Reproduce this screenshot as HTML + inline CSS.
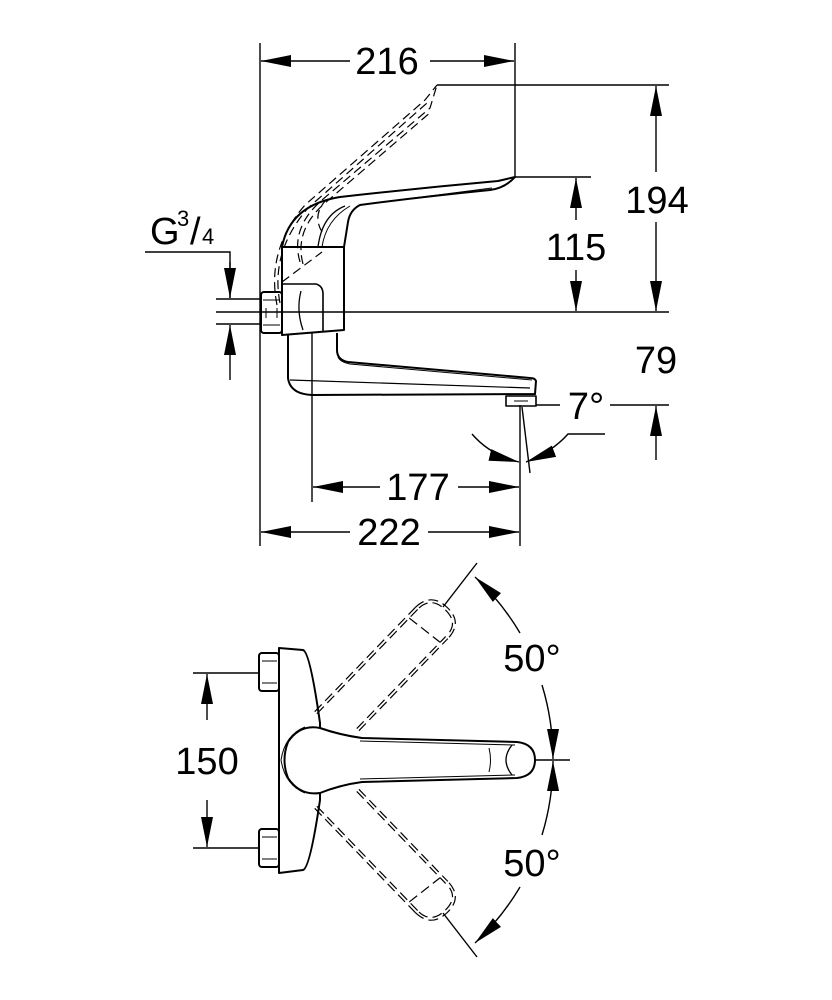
<!DOCTYPE html>
<html><head><meta charset="utf-8"><style>
html,body{margin:0;padding:0;background:#fff}
svg{display:block}
text{font-family:"Liberation Sans",Arial,sans-serif;font-size:38px;fill:#000}
</style></head><body>
<svg width="832" height="1000" viewBox="0 0 832 1000" xmlns="http://www.w3.org/2000/svg">
<defs>
<marker id="a" viewBox="0 0 30 12" refX="30" refY="6" markerWidth="30" markerHeight="12" markerUnits="userSpaceOnUse" orient="auto">
<path d="M0,0 L30,6 L0,12 Z" fill="#000"/></marker>
</defs>
<g stroke="#000" stroke-width="1.4" fill="none">
<line x1="260" y1="43" x2="260" y2="546"/>
<line x1="515" y1="43" x2="515" y2="177"/>
<line x1="437" y1="85" x2="669" y2="85"/>
<line x1="515" y1="177" x2="591" y2="177"/>
<line x1="216" y1="312" x2="669" y2="312"/>
<line x1="312" y1="333" x2="312" y2="502"/>
<line x1="520" y1="405" x2="520" y2="546"/>
<line x1="536" y1="405" x2="560" y2="405"/>
<line x1="610" y1="405" x2="669" y2="405"/>
<line x1="522" y1="407" x2="530" y2="473"/>
<line x1="350" y1="61" x2="261" y2="61" marker-end="url(#a)"/>
<line x1="430" y1="61" x2="514" y2="61" marker-end="url(#a)"/>
<line x1="656" y1="172" x2="656" y2="86" marker-end="url(#a)"/>
<line x1="656" y1="222" x2="656" y2="311" marker-end="url(#a)"/>
<line x1="576" y1="220" x2="576" y2="178" marker-end="url(#a)"/>
<line x1="576" y1="270" x2="576" y2="311" marker-end="url(#a)"/>
<line x1="656" y1="460" x2="656" y2="406" marker-end="url(#a)"/>
<polyline points="145,252 230,252 230,298"/>
<line x1="230" y1="262" x2="230" y2="298" marker-end="url(#a)"/>
<line x1="216" y1="299" x2="260" y2="299"/>
<line x1="216" y1="324" x2="260" y2="324"/>
<line x1="230" y1="380" x2="230" y2="325" marker-end="url(#a)"/>
<line x1="380" y1="487" x2="313" y2="487" marker-end="url(#a)"/>
<line x1="458" y1="487" x2="519" y2="487" marker-end="url(#a)"/>
<line x1="350" y1="532" x2="261" y2="532" marker-end="url(#a)"/>
<line x1="428" y1="532" x2="519" y2="532" marker-end="url(#a)"/>
<path d="M472,434 Q490,455 519,462" marker-end="url(#a)"/>
<path d="M605,434 L568,434 Q552,452 526,462" marker-end="url(#a)"/>
</g>
<g stroke="#000" stroke-width="2" fill="none" stroke-linejoin="round">
<rect x="261" y="292" width="21" height="41" rx="3"/>
<line x1="263" y1="300" x2="280" y2="300" stroke-width="1"/>
<line x1="263" y1="325" x2="280" y2="325" stroke-width="1"/>
<line x1="266" y1="308" x2="266" y2="318" stroke-width="1"/>
<line x1="277" y1="308" x2="277" y2="318" stroke-width="1"/>
<path d="M282,247 L344,247 L344,330 L282,335 Z"/>
<path d="M282,284 L316,284 Q323,286 323,294 L323,331" stroke-width="1.6"/>
<path d="M301,291 Q296,310 303,330" stroke-width="1.3"/>
<path d="M282,247 Q290,205 340,197 Q420,188 498,181 L515,177 Q505,188 490,190 Q420,197 360,205 Q350,210 348,222 L344,247" />
<path d="M318,247 Q322,215 345,206" stroke-width="1.3"/>
<path d="M322,247 Q326,220 350,206" stroke-width="1"/>
<path d="M360,205 Q430,196 492,188" stroke-width="1"/>
<path d="M288,335 L288,378 Q290,394 312,395 L535,394 L536,381 Q535,378 530,378 L348,362 Q337,360 337,350 L337,333"/>
<path d="M290,380 L530,388" stroke-width="1.2"/>
<path d="M338,357 Q340,362 350,364 L532,380" stroke-width="1"/>
<rect x="506" y="396" width="30" height="10" stroke-width="1.6"/>
<line x1="514" y1="401" x2="528" y2="401" stroke-width="1"/>
</g>
<g stroke="#000" stroke-width="1.2" fill="none" stroke-dasharray="9,5">
<path d="M277,305 Q266,250 305,205 L425,100 L437,85"/>
<path d="M280,303 Q270,252 308,208 L427,103"/>
<path d="M300,262 Q290,228 322,200 L430,108 L437,85"/>
<path d="M303,264 Q294,230 325,203 L432,111"/>
<path d="M322,232 Q312,215 326,200"/>
<path d="M282,282 L322,252"/>
</g>
<g>
<text x="387" y="74" text-anchor="middle">216</text>
<text x="657" y="213" text-anchor="middle">194</text>
<text x="576" y="260" text-anchor="middle">115</text>
<text x="656" y="373" text-anchor="middle">79</text>
<text x="586" y="419" text-anchor="middle">7°</text>
<text x="418" y="500" text-anchor="middle">177</text>
<text x="389" y="545" text-anchor="middle">222</text>
<text x="150" y="244">G</text>
<text x="177" y="226" style="font-size:22px">3</text>
<text x="190" y="244">/</text>
<text x="202" y="244" style="font-size:22px">4</text>
</g>
<g stroke="#000" stroke-width="1.4" fill="none">
<line x1="193" y1="673" x2="259" y2="673"/>
<line x1="193" y1="848" x2="259" y2="848"/>
<line x1="207" y1="720" x2="207" y2="674" marker-end="url(#a)"/>
<line x1="207" y1="800" x2="207" y2="847" marker-end="url(#a)"/>
<line x1="513" y1="760" x2="570" y2="760"/>
<line x1="443" y1="607" x2="477" y2="563"/>
<line x1="443" y1="913" x2="477" y2="957"/>
<path d="M520,633 A252,252 0 0 0 475,577" marker-end="url(#a)"/>
<path d="M542,685 A252,252 0 0 1 553,759" marker-end="url(#a)"/>
<path d="M520,887 A252,252 0 0 1 475,943" marker-end="url(#a)"/>
<path d="M542,835 A252,252 0 0 0 553,761" marker-end="url(#a)"/>
</g>
<g stroke="#000" stroke-width="2" fill="none" stroke-linejoin="round">
<path d="M279,648 L279,873 L303,870 Q310,868 320,800 L320,723 Q310,652 303,650 Z"/>
<rect x="259" y="653" width="20" height="38" rx="3"/>
<rect x="259" y="829" width="20" height="38" rx="3"/>
<line x1="262" y1="661" x2="277" y2="661" stroke-width="1"/>
<line x1="262" y1="683" x2="277" y2="683" stroke-width="1"/>
<line x1="262" y1="837" x2="277" y2="837" stroke-width="1"/>
<line x1="262" y1="859" x2="277" y2="859" stroke-width="1"/>
<path d="M320,728 Q300,724 288,742 Q281,760 288,778 Q300,796 320,793 Q340,785 362,782 L517,778 Q535,776 535,760 Q535,744 517,742 L362,738 Q340,735 320,728 Z" fill="#fff"/>
<path d="M360,741 L515,745" stroke-width="1"/>
<path d="M360,779 L515,775" stroke-width="1"/>
<path d="M512,745 Q500,760 512,775" stroke-width="1.3"/>
<path d="M489,748 Q492,760 489,772" stroke-width="1"/>
<path d="M281,760 Q285,735 305,727" stroke-width="1"/>
<path d="M281,760 Q285,785 305,793" stroke-width="1"/>
</g>
<g stroke="#000" stroke-width="1.2" fill="none" stroke-dasharray="10,5">
<g transform="translate(300,760) rotate(-46)">
<path d="M45,-20 L190,-20 M45,-23 L190,-23"/>
<path d="M62,19 L190,19 M62,22 L190,22"/>
<path d="M190,-23 Q212,-22 212,0 Q212,22 190,22"/>
<path d="M192,-20 Q209,-19 209,0 Q209,19 192,19"/>
<path d="M178,-20 L182,19"/>
</g>
<g transform="translate(300,760) rotate(46)">
<path d="M45,20 L190,20 M45,23 L190,23"/>
<path d="M62,-19 L190,-19 M62,-22 L190,-22"/>
<path d="M190,23 Q212,22 212,0 Q212,-22 190,-22"/>
<path d="M192,20 Q209,19 209,0 Q209,-19 192,-19"/>
<path d="M178,20 L182,-19"/>
</g>
</g>
<g>
<text x="207" y="774" text-anchor="middle">150</text>
<text x="532" y="671" text-anchor="middle">50°</text>
<text x="532" y="876" text-anchor="middle">50°</text>
</g>
</svg>
</body></html>
